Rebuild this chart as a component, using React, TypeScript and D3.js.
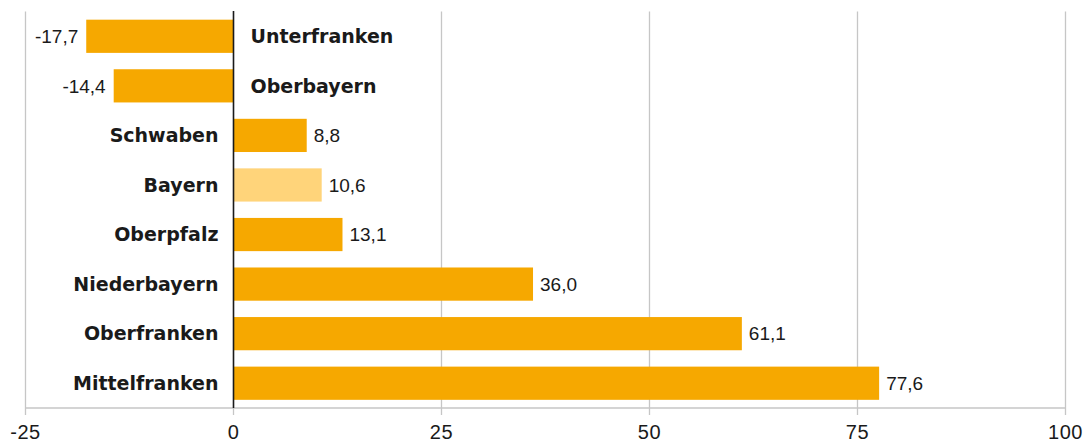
import React from "react";
import * as d3 from "d3";

const categories = ["Unterfranken", "Oberbayern", "Schwaben", "Bayern", "Oberpfalz", "Niederbayern", "Oberfranken", "Mittelfranken"];
const values = [-17.7, -14.4, 8.8, 10.6, 13.1, 36.0, 61.1, 77.6];
const highlighted = ["Bayern"];
const tickValues = [-25, 0, 25, 50, 75, 100];

const W = 1083;
const H = 444;

export default function App() {
  const x = d3.scaleLinear().domain([-25, 100]).range([25.5, 1065.5]);
  const y = d3.scaleBand<string>().domain(categories).range([11.5, 408]).paddingInner(0.33).paddingOuter(0.165);
  const fmt = (v: number) => v.toFixed(1).replace(".", ",");
  const axisY = 408;
  const numFont = "'Liberation Sans', Arial, sans-serif";
  const labFont = "'DejaVu Sans', sans-serif";
  return (
    <svg width={W} height={H} style={{ position: "absolute", left: 0, top: 0 }}>
      <rect width={W} height={H} fill="#fff" />
      {tickValues.map((t) => (
        <line key={"g" + t} x1={x(t)} x2={x(t)} y1={t === 0 ? axisY : 11.5} y2={415} stroke="#c6c6c6" strokeWidth={1.3} />
      ))}
      <line x1={x(-25)} x2={x(100)} y1={axisY} y2={axisY} stroke="#c6c6c6" strokeWidth={1.3} />
      {categories.map((c, i) => {
        const v = values[i];
        const x0 = x(Math.min(0, v));
        const x1 = x(Math.max(0, v));
        const by = y(c)!;
        const bh = y.bandwidth();
        const cy = by + bh / 2;
        const hl = highlighted.includes(c);
        return (
          <g key={c}>
            <rect x={x0} y={by} width={x1 - x0} height={bh} fill={hl ? "#FFD47A" : "#F6A800"} />
            <text
              x={v < 0 ? x0 - 8 : x1 + 7}
              y={cy}
              dy="0.36em"
              textAnchor={v < 0 ? "end" : "start"}
              fontFamily={numFont}
              fontSize={19}
              fill="#1a1a1a"
            >
              {fmt(v)}
            </text>
            <text
              x={v < 0 ? x(0) + 17 : x(0) - 15}
              y={cy}
              dy="0.36em"
              textAnchor={v < 0 ? "start" : "end"}
              fontFamily={labFont}
              fontWeight="bold"
              fontSize={19}
              fill="#1a1a1a"
            >
              {c}
            </text>
          </g>
        );
      })}
      <line x1={x(0)} x2={x(0)} y1={11} y2={axisY} stroke="#1a1a1a" strokeWidth={1.6} />
      {tickValues.map((t) => (
        <text key={"t" + t} x={x(t)} y={439} textAnchor="middle" fontFamily={numFont} fontSize={20} letterSpacing={0.6} fill="#1a1a1a">
          {t}
        </text>
      ))}
    </svg>
  );
}
